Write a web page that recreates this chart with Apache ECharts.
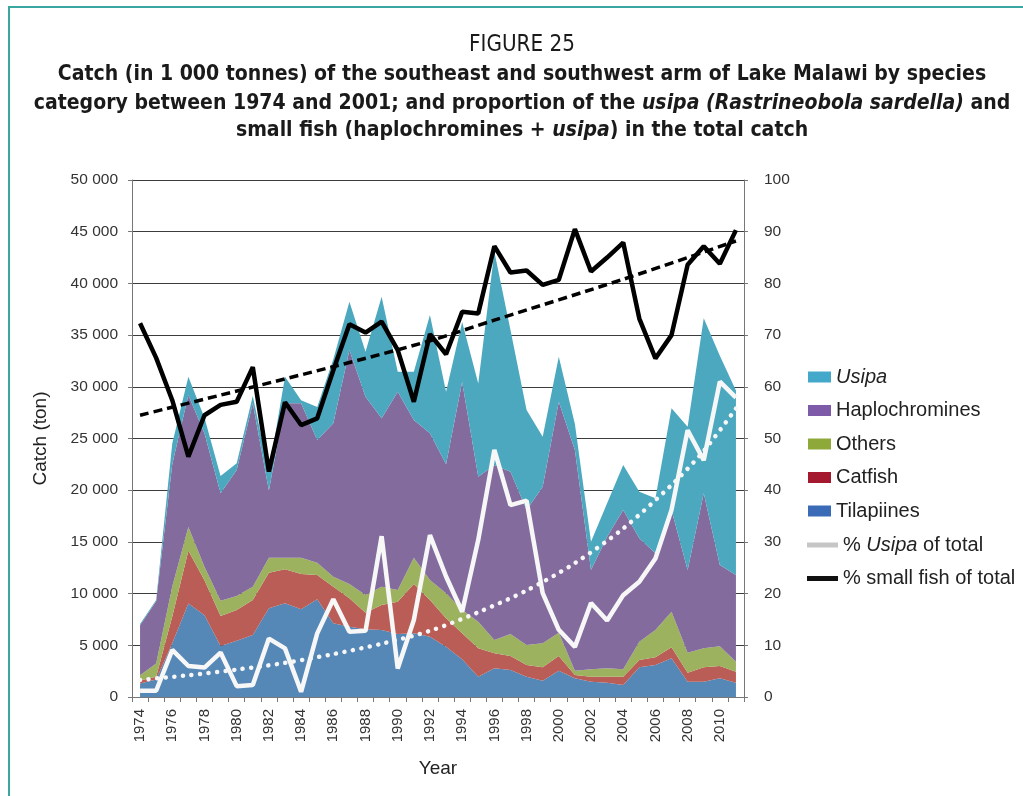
<!DOCTYPE html>
<html><head><meta charset="utf-8">
<script src="https://cdn.jsdelivr.net/npm/echarts@6/dist/echarts.min.js"></script>
<style>html,body{margin:0;padding:0;background:#fff}#c{width:1023px;height:796px}</style>
</head><body><div id="c"></div>
<script>
// ---- DATA ----
const years = ['1974','1975','1976','1977','1978','1979','1980','1981','1982','1983','1984','1985','1986','1987','1988','1989','1990','1991','1992','1993','1994','1995','1996','1997','1998','1999','2000','2001','2002','2003','2004','2005','2006','2007','2008','2009','2010','2011'];
const tilapiines = [1300,1700,5200,9050,7900,4930,5450,6000,8580,9060,8480,9450,7130,6800,6550,6480,6090,6160,5830,4870,3640,1960,2770,2610,1960,1580,2540,1810,1480,1380,1160,2870,3090,3740,1480,1480,1810,1380];
const catfish = [300,250,2580,5100,3400,2900,2960,3380,3440,3290,3410,2350,3540,2740,1600,2420,3130,4770,3550,2740,2520,2750,1460,1350,1130,1290,1420,320,480,580,800,710,750,1070,870,1390,1190,1070];
const others = [500,1300,2900,2300,1300,1480,1360,1290,1450,1120,1580,1190,960,1390,1710,1770,1130,2540,1930,2420,2250,2570,1280,2130,1940,2320,2260,410,720,810,720,1770,2640,3440,1930,1840,1900,950];
const haplochromines = [4850,6000,11830,12750,12900,10390,12180,17730,6500,14930,14930,11860,14840,22620,19180,16280,19170,13320,14190,12470,22050,14020,16920,15700,13050,15150,22340,21340,9600,12730,15400,10000,7420,9830,8000,14990,7860,8400];
const usipa = [100,130,2000,1770,1500,1670,650,700,1800,2570,300,3200,6200,4680,4350,11760,1940,4670,11440,7020,5810,9030,20630,13700,9670,4830,4350,2520,2740,3230,4350,4500,5310,9840,13860,16920,20240,17850];
const pctSmall = [72.3,65.6,57.4,46.5,54.5,56.5,57.1,63.8,43.6,57.0,52.6,53.9,63.2,72.1,70.5,72.6,67.1,57.1,70.2,66.3,74.5,74.2,87.2,82.1,82.5,79.7,80.7,90.5,82.3,85.0,87.9,73.2,65.5,70.0,83.6,87.2,83.8,90.3];
const pctUsipa = [1.2,1.2,9.1,6.0,5.7,8.6,2.1,2.3,11.3,9.4,1.0,12.3,18.9,12.6,12.8,31.1,5.5,14.9,31.3,23.3,16.5,30.4,47.8,37.1,38.0,20.1,13.0,9.7,18.2,14.8,19.7,22.3,26.8,36.2,51.6,45.8,61.0,57.9];
// trend lines (sparse points)
const trendSmall = [['1974',54.5],['1986',63.9],['1992',68.9],['1996',72.9],['2004',80.8],['2011',88.2]];
const trendUsipa = [['1974',3.3],['1977',4.2],['1980',5.3],['1983',6.6],['1986',8.3],['1989',10.3],['1992',12.8],['1995',16.4],['1998',20.6],['2001',25.9],['2004',32.6],['2007',41.0],['2009',47.6],['2011',55.8]];
const leftTicks = {min:0, max:50000, interval:5000};
const rightTicks = {min:0, max:100, interval:10};

// ---- STYLE ----
const F = '"Liberation Sans", Arial, Helvetica, sans-serif';
const FN = '"Liberation Sans Narrow", "DejaVu Sans Condensed", "Liberation Sans", sans-serif';
function fitSize(text, weight, family, target){
  const c = document.createElement('canvas').getContext('2d');
  c.font = weight + ' 100px ' + family;
  const w = c.measureText(text).width;
  return 100 * target / w;
}
const t1 = 'Catch (in 1 000 tonnes) of the southeast and southwest arm of Lake Malawi by species';
const TS = fitSize(t1, 'bold', FN, 929);
const FS = fitSize('FIGURE 25', 'normal', FN, 106);

function fmt(v){ return String(v).replace(/\B(?=(\d{3})+(?!\d))/g, ' '); }

const area = (name, data, color) => ({
  name, type:'line', stack:'catch', data, symbol:'none', showSymbol:false,
  lineStyle:{width:0}, areaStyle:{color, opacity:1}, itemStyle:{color}, z:2, silent:true
});

const chart = echarts.init(document.getElementById('c'));
const richI = (size, weight) => ({fontStyle:'italic', fontWeight:weight, fontSize:size, fontFamily:FN, fill:'#1a1a1a'});
chart.setOption({
  animation:false,
  backgroundColor:'#fff',
  grid:{left:132, right:279, top:180, bottom:99, containLabel:false},
  graphic:[
    {type:'rect', shape:{x:9, y:7, width:1200, height:1000}, style:{fill:'none', stroke:'#3aa6a0', lineWidth:2}, silent:true},
    {type:'text', x:522, y:45, style:{text:'FIGURE 25', fontFamily:FN, fontSize:FS, fill:'#1a1a1a', align:'center', verticalAlign:'middle'}},
    {type:'text', x:522, y:75, style:{text:t1, fontFamily:FN, fontSize:TS, fontWeight:'bold', fill:'#1a1a1a', align:'center', verticalAlign:'middle'}},
    {type:'text', x:522, y:104, style:{text:'category between 1974 and 2001; and proportion of the {i|usipa (Rastrineobola sardella)} and', fontFamily:FN, fontSize:TS, fontWeight:'bold', fill:'#1a1a1a', align:'center', verticalAlign:'middle', rich:{i:richI(TS,'bold')}}},
    {type:'text', x:522, y:131, style:{text:'small fish (haplochromines + {i|usipa}) in the total catch', fontFamily:FN, fontSize:TS, fontWeight:'bold', fill:'#1a1a1a', align:'center', verticalAlign:'middle', rich:{i:richI(TS,'bold')}}}
  ],
  xAxis:{
    type:'category', data:years, boundaryGap:true,
    axisLine:{lineStyle:{color:'#777', width:1}},
    axisTick:{show:true, interval:0, length:5, lineStyle:{color:'#777'}},
    axisLabel:{interval:1, rotate:90, margin:12, fontSize:15, color:'#333', fontFamily:F},
    name:'Year', nameLocation:'middle', nameGap:62,
    nameTextStyle:{fontSize:19, color:'#222', fontFamily:F}
  },
  yAxis:[
    {type:'value', position:'left', min:leftTicks.min, max:leftTicks.max, interval:leftTicks.interval,
     axisLine:{show:true, lineStyle:{color:'#777'}},
     axisTick:{show:true, length:4, lineStyle:{color:'#777'}},
     axisLabel:{formatter:fmt, margin:14, fontSize:15.5, color:'#333', fontFamily:F},
     splitLine:{show:true, lineStyle:{color:'#3c3c3c', width:1.2}},
     name:'Catch (ton)', nameLocation:'middle', nameGap:82, nameRotate:90,
     nameTextStyle:{fontSize:19, color:'#222', fontFamily:F}},
    {type:'value', position:'right', min:rightTicks.min, max:rightTicks.max, interval:rightTicks.interval,
     axisLine:{show:true, lineStyle:{color:'#777'}},
     axisTick:{show:true, length:4, lineStyle:{color:'#777'}},
     axisLabel:{margin:20, fontSize:15.5, color:'#333', fontFamily:F},
     splitLine:{show:false}}
  ],
  legend:[
    {orient:'vertical', left:803, top:361.5, itemWidth:23, itemHeight:11, itemGap:12.5, icon:'rect', selectedMode:false,
     textStyle:{fontSize:20, lineHeight:21, color:'#222', fontFamily:F, rich:{i:{fontStyle:'italic', fontSize:20, lineHeight:21, color:'#222', fontFamily:F}}},
     formatter:n => n === 'Usipa' ? '{i|Usipa}' : n,
     data:[
       {name:'Usipa', itemStyle:{color:'#44a8cb'}},
       {name:'Haplochromines', itemStyle:{color:'#7e5ba8'}},
       {name:'Others', itemStyle:{color:'#8fa83a'}},
       {name:'Catfish', itemStyle:{color:'#a4192e'}},
       {name:'Tilapiines', itemStyle:{color:'#3b6bb6'}}
     ]},
    {orient:'vertical', left:802, top:529.5, itemWidth:31, itemHeight:5, itemGap:12.5, icon:'rect', selectedMode:false,
     textStyle:{fontSize:20, lineHeight:21, color:'#222', fontFamily:F, rich:{i:{fontStyle:'italic', fontSize:20, lineHeight:21, color:'#222', fontFamily:F}}},
     formatter:n => n === '% Usipa of total' ? '% {i|Usipa} of total' : n,
     data:[
       {name:'% Usipa of total', itemStyle:{color:'#c6c6c6', borderWidth:0}},
       {name:'% small fish of total', itemStyle:{color:'#111', borderWidth:0}}
     ]}
  ],
  series:[
    area('Tilapiines', tilapiines, '#5587b7'),
    area('Catfish', catfish, '#b95d56'),
    area('Others', others, '#9db25f'),
    area('Haplochromines', haplochromines, '#846b9e'),
    area('Usipa', usipa, '#4ba8bf'),
    {name:'trend small', type:'line', yAxisIndex:1, data:trendSmall, symbol:'none', smooth:0.3, silent:true,
     lineStyle:{color:'#000', width:3.5, type:[9,5]}, z:4},
    {name:'trend usipa', type:'line', yAxisIndex:1, data:trendUsipa, symbol:'none', smooth:0.3, silent:true,
     lineStyle:{color:'#f7f7f7', width:4.5, type:[0.1,8.5], cap:'round'}, z:4},
    {name:'% Usipa of total', type:'line', yAxisIndex:1, data:pctUsipa, symbol:'none', silent:true,
     lineStyle:{color:'#f7f7f7', width:4.5}, itemStyle:{color:'#f7f7f7'}, z:5},
    {name:'% small fish of total', type:'line', yAxisIndex:1, data:pctSmall, symbol:'none', silent:true,
     lineStyle:{color:'#000', width:4.5}, itemStyle:{color:'#000'}, z:6}
  ]
});
</script>
</body></html>
